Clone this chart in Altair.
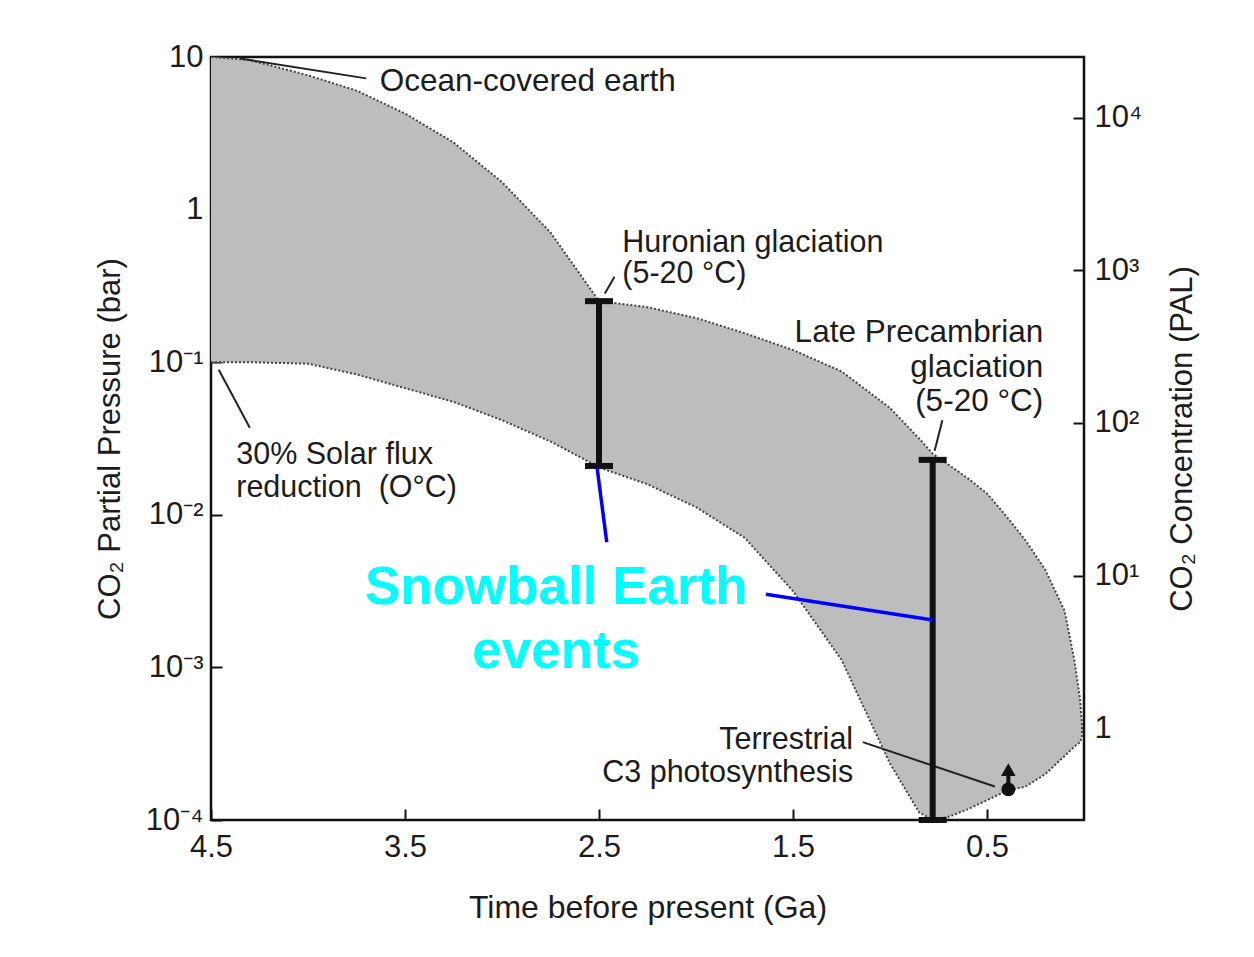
import altair as alt
import pandas as pd

# ---------------- data ----------------
# time before present (Ga) and log10 of CO2 partial pressure (bar) of the shaded band
ga = [4.5, 4.3, 4.0, 3.75, 3.5, 3.25, 3.0, 2.75, 2.6, 2.5, 2.25, 2.0, 1.75, 1.5,
      1.25, 1.0, 0.85, 0.78, 0.7, 0.6, 0.5, 0.4, 0.3, 0.2, 0.1, 0.05, 0.02, 0.01]
upper_log = [1.0, 0.98, 0.88, 0.78, 0.63, 0.44, 0.18, -0.15, -0.42, -0.60, -0.64,
             -0.71, -0.81, -0.92, -1.06, -1.30, -1.50, -1.60, -1.67, -1.76, -1.86,
             -2.01, -2.17, -2.36, -2.63, -2.95, -3.21, -3.38]
lower_log = [-1.00, -1.00, -1.01, -1.08, -1.17, -1.26, -1.38, -1.52, -1.62, -1.69,
             -1.80, -1.95, -2.15, -2.50, -2.95, -3.63, -3.95, -4.0, -3.98, -3.93,
             -3.87, -3.81, -3.78, -3.70, -3.58, -3.52, -3.49, -3.45]

PAL_BAR = 4.0e-4          # 1 PAL expressed in bar (right axis)

x_ticks = [4.5, 3.5, 2.5, 1.5, 0.5]
y_ticks = [1e-4, 1e-3, 1e-2, 1e-1, 1, 10]
y_labels = ["10⁻⁴", "10⁻³", "10⁻²", "10⁻¹", "1", "10"]
pal_ticks = [1, 10, 100, 1000, 10000]
pal_labels = ["1", "10¹", "10²", "10³", "10⁴"]

# glaciation ranges
glac_ga = [2.5, 0.78]
glac_top_log = [-0.60, -1.64]
glac_bot_log = [-1.68, -4.0]

# terrestrial C3 photosynthesis symbol
c3_ga = [0.39]
c3_dot_log = [-3.80]
c3_arrow_log = [-3.67]

# annotations
ocean_texts = ["Ocean-covered earth"]
ocean_ga = [3.63]
ocean_log = [0.836]

huron_texts = ["Huronian glaciation", "(5-20 °C)"]
huron_ga = [2.38, 2.38]
huron_log = [-0.22, -0.425]

solar_texts = ["30% Solar flux", "reduction\u00a0 (O°C)"]
solar_ga = [4.37, 4.37]
solar_log = [-1.605, -1.825]

late_texts = ["Late Precambrian", "glaciation", "(5-20 °C)"]
late_ga = [0.21, 0.21, 0.21]
late_log = [-0.81, -1.04, -1.26]

terr_texts = ["Terrestrial", "C3 photosynthesis"]
terr_ga = [1.19, 1.19]
terr_log = [-3.475, -3.695]

snow_texts = ["Snowball Earth", "events"]
snow_ga = [2.72, 2.72]
snow_log = [-2.48, -2.90]

# leader lines (black)
lead_x1 = [4.35, 4.46, 2.47, 0.77, 1.14]
lead_y1 = [0.99, -1.05, -0.55, -1.58, -3.49]
lead_x2 = [3.70, 4.30, 2.42, 0.73, 0.46]
lead_y2 = [0.86, -1.43, -0.44, -1.38, -3.78]

# leader lines (blue)
blue_x1 = [2.46, 1.64]
blue_y1 = [-2.18, -2.52]
blue_x2 = [2.51, 0.78]
blue_y2 = [-1.69, -2.69]

# ---------------- chart ----------------
FONT = "Liberation Sans"
TXT = "#1c1c1c"
FS = 31          # axis text

xs = alt.Scale(domain=[0, 4.5], reverse=True, nice=False, zero=False)
ys = alt.Scale(type="log", domain=[1e-4, 10], nice=False)
pal_s = alt.Scale(type="log", domain=[1e-4 / PAL_BAR, 10 / PAL_BAR], nice=False)

x_axis = alt.Axis(
    orient="bottom", values=x_ticks, format=".1f", offset=-11, tickSize=11,
    tickWidth=2, tickColor="#111", domain=False, grid=False,
    labelFontSize=FS, labelColor=TXT, labelPadding=12, labelFlush=False,
    labelOverlap=False, labelFont=FONT,
    title="Time before present (Ga)", titleFontSize=32, titleFontWeight="normal",
    titleColor=TXT, titlePadding=30, titleFont=FONT,
)
y_expr = "[" + ",".join("'%s'" % s for s in y_labels) + "][round(log(datum.value)/LN10)+4]"
y_axis = alt.Axis(
    orient="left", values=y_ticks, offset=-11, tickSize=11, tickWidth=2,
    tickColor="#111", domain=False, grid=False, labelExpr=y_expr,
    labelFontSize=FS, labelColor=TXT, labelPadding=8, labelFlush=False,
    labelOverlap=False, labelFont=FONT,
    title="CO₂ Partial Pressure (bar)", titleFontSize=FS, titleFontWeight="normal",
    titleColor=TXT, titlePadding=19, titleFont=FONT,
)
pal_expr = "[" + ",".join("'%s'" % s for s in pal_labels) + "][round(log(datum.value)/LN10)]"
pal_axis = alt.Axis(
    orient="right", values=pal_ticks, offset=-11, tickSize=11, tickWidth=2,
    tickColor="#111", domain=False, grid=False, labelExpr=pal_expr,
    labelFontSize=FS, labelColor=TXT, labelPadding=10, labelFlush=False,
    labelOverlap=False, labelFont=FONT,
    title="CO₂ Concentration (PAL)", titleFontSize=FS, titleFontWeight="normal",
    titleColor=TXT, titlePadding=57, titleAngle=270, titleFont=FONT,
)

# shared x: other layers leave the x axis unspecified so the explicit one wins;
# y scales are independent, so other layers switch their own y axis off.
XF = dict(scale=xs)

band = pd.DataFrame({"ga": ga, "ulog": upper_log, "llog": lower_log})
area = alt.Chart(band).transform_calculate(
    up="pow(10, datum.ulog)", lo="pow(10, datum.llog)"
).mark_area(color="#bdbdbd", opacity=1).encode(
    x=alt.X("ga:Q", scale=xs, axis=x_axis),
    y=alt.Y("up:Q", scale=ys, axis=y_axis),
    y2="lo:Q",
)

outline_df = pd.DataFrame({
    "ga": ga + ga[::-1],
    "lg": lower_log + upper_log[::-1],
    "o": list(range(2 * len(ga))),
})
outline = alt.Chart(outline_df).transform_calculate(
    p="pow(10, datum.lg)"
).mark_line(color="#444", strokeWidth=2, strokeDash=[2, 2]).encode(
    x=alt.X("ga:Q", **XF),
    y=alt.Y("p:Q", scale=ys, axis=None),
    order="o:Q",
)

glac = pd.DataFrame({"ga": glac_ga, "t": glac_top_log, "b": glac_bot_log})
glac_c = alt.Chart(glac).transform_calculate(
    pt="pow(10, datum.t)", pb="pow(10, datum.b)"
)
bars = glac_c.mark_rule(color="#111", strokeWidth=6).encode(
    x=alt.X("ga:Q", **XF),
    y=alt.Y("pt:Q", scale=ys, axis=None),
    y2="pb:Q",
)
caps_top = glac_c.mark_tick(color="#111", orient="horizontal", size=28, thickness=6,
                            opacity=1).encode(
    x=alt.X("ga:Q", **XF),
    y=alt.Y("pt:Q", scale=ys, axis=None),
)
caps_bot = glac_c.mark_tick(color="#111", orient="horizontal", size=28, thickness=6,
                            opacity=1, clip=False).encode(
    x=alt.X("ga:Q", **XF),
    y=alt.Y("pb:Q", scale=ys, axis=None),
)

c3 = alt.Chart(pd.DataFrame({"ga": c3_ga, "d": c3_dot_log, "a": c3_arrow_log})).transform_calculate(
    pd_="pow(10, datum.d)", pa="pow(10, datum.a)"
)
c3_shaft = c3.mark_rule(color="#111", strokeWidth=4).encode(
    x=alt.X("ga:Q", **XF),
    y=alt.Y("pd_:Q", scale=ys, axis=None),
    y2="pa:Q",
)
c3_dot = c3.mark_point(shape="circle", filled=True, size=190, color="#111", opacity=1).encode(
    x=alt.X("ga:Q", **XF),
    y=alt.Y("pd_:Q", scale=ys, axis=None),
)
c3_arrow = c3.mark_point(shape="triangle-up", filled=True, size=210, color="#111", opacity=1).encode(
    x=alt.X("ga:Q", **XF),
    y=alt.Y("pa:Q", scale=ys, axis=None),
)

lead = pd.DataFrame({"x1": lead_x1, "y1": lead_y1, "x2": lead_x2, "y2": lead_y2})
leaders = alt.Chart(lead).transform_calculate(
    p1="pow(10, datum.y1)", p2="pow(10, datum.y2)"
).mark_rule(color="#222", strokeWidth=2).encode(
    x=alt.X("x1:Q", **XF), x2="x2:Q",
    y=alt.Y("p1:Q", scale=ys, axis=None), y2="p2:Q",
)

blue = pd.DataFrame({"x1": blue_x1, "y1": blue_y1, "x2": blue_x2, "y2": blue_y2})
blue_leaders = alt.Chart(blue).transform_calculate(
    p1="pow(10, datum.y1)", p2="pow(10, datum.y2)"
).mark_rule(color="#0000ff", strokeWidth=3.5).encode(
    x=alt.X("x1:Q", **XF), x2="x2:Q",
    y=alt.Y("p1:Q", scale=ys, axis=None), y2="p2:Q",
)


def text_layer(texts, gx, lg, align, size, color, weight="normal"):
    df = pd.DataFrame({"t": texts, "ga": gx, "lg": lg})
    return alt.Chart(df).transform_calculate(p="pow(10, datum.lg)").mark_text(
        align=align, baseline="middle", fontSize=size, color=color,
        font=FONT, fontWeight=weight,
    ).encode(
        x=alt.X("ga:Q", **XF),
        y=alt.Y("p:Q", scale=ys, axis=None),
        text="t:N",
    )


ocean_t = text_layer(ocean_texts, ocean_ga, ocean_log, "left", 31.5, TXT)
huron_t = text_layer(huron_texts, huron_ga, huron_log, "left", 30.5, TXT)
solar_t = text_layer(solar_texts, solar_ga, solar_log, "left", 30.5, TXT)
late_t = text_layer(late_texts, late_ga, late_log, "right", 31.5, TXT)
terr_t = text_layer(terr_texts, terr_ga, terr_log, "right", 30.5, TXT)
snow_t = text_layer(snow_texts, snow_ga, snow_log, "center", 53, "#00ffff", "bold")

pal_layer = alt.Chart(pd.DataFrame({"pal": pal_ticks})).mark_point(opacity=0).encode(
    y=alt.Y("pal:Q", scale=pal_s, axis=pal_axis),
)

chart = alt.layer(
    area, outline, leaders, bars, caps_top, caps_bot, c3_shaft, c3_dot, c3_arrow,
    blue_leaders, ocean_t, huron_t, solar_t, late_t, terr_t, snow_t, pal_layer,
).resolve_scale(y="independent").properties(
    width=873, height=763,
    autosize=alt.AutoSizeParams(type="none"),
    padding={"left": 203, "top": 49, "right": 150, "bottom": 120},
    background="white",
).configure(font=FONT).configure_view(stroke="#111", strokeWidth=2.5)

chart.save("out.html", embed_options={"renderer": "svg", "actions": False})
